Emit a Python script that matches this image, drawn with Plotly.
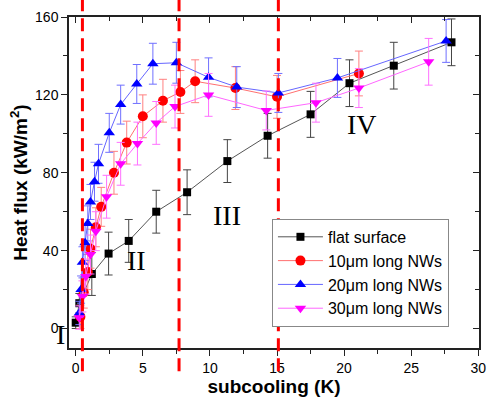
import plotly.graph_objects as go

# Pool boiling heat flux vs. subcooling for flat and nanowire surfaces
flat_x = [0.0, 0.27, 1.2, 2.45, 3.95, 6.0, 8.3, 11.3, 14.3, 17.5, 20.4, 23.7, 28.0]
flat_y = [3, 13, 28, 38.5, 45, 60, 70, 86, 99, 110, 126, 135, 147]
flat_err = [3, 5, 11, 11, 11, 11, 11.5, 11, 11.5, 11.8, 12, 12, 12]

nw10_x = [0.35, 0.6, 0.9, 1.1, 1.5, 1.9, 2.85, 3.8, 5.0, 6.5, 7.8, 8.9, 11.9, 15.0, 21.1]
nw10_y = [6, 18.5, 29, 41, 52, 62.5, 80, 95.5, 109, 117, 121.5, 127, 123.5, 119, 131]
nw10_err = [6, 8, 9, 10, 10, 10, 11, 11, 11, 11, 11, 11, 11, 11, 11.5]

nw20_x = [0.27, 0.4, 0.5, 0.7, 0.9, 1.1, 1.4, 1.7, 2.5, 3.35, 4.55, 5.75, 7.5, 9.9, 12.0, 15.1, 19.5, 27.6]
nw20_y = [8, 20, 34, 44, 54, 65, 75.4, 84.6, 100.5, 115, 125.6, 136, 136.5, 129, 124, 121, 128.7, 147.7]
nw20_err = [6, 7, 8, 9, 9, 9, 10, 10, 10, 10, 10, 10.5, 10.5, 10, 10.5, 10, 10, 11]

nw30_x = [0.27, 0.5, 0.75, 1.1, 1.5, 2.3, 3.35, 4.6, 6.0, 7.4, 9.9, 14.2, 17.9, 21.1, 26.3]
nw30_y = [5.6, 16.5, 26.7, 38, 50, 67.7, 84.6, 95, 105.6, 114, 120, 112, 116, 123.5, 137]
nw30_err = [6, 8, 9, 10, 10, 11, 11, 11, 11, 11, 11, 10, 10, 10, 12]

# regime boundaries (K) and regime labels
boundaries = [0.5, 7.7, 15.1]
regime_text = ["I", "II", "III", "IV"]
regime_x = [-1.1, 4.5, 11.3, 21.3]
regime_y = [-3, 35, 58, 105]

x_range = [-0.5, 30.05]
y_range = [-10, 160]

FONT = "Liberation Sans, Arial, sans-serif"
SERIF = "Liberation Serif, Times New Roman, serif"

series = [
    ("flat surface", flat_x, flat_y, flat_err, "square", 8, "#000000", "#555555", "#444444"),
    ("10μm long NWs", nw10_x, nw10_y, nw10_err, "circle", 10, "#ff0000", "#ff7070", "#ff8080"),
    ("20μm long NWs", nw20_x, nw20_y, nw20_err, "triangle-up", 10, "#0000ff", "#6666ff", "#7070ff"),
    ("30μm long NWs", nw30_x, nw30_y, nw30_err, "triangle-down", 10, "#ff00ff", "#ff66ff", "#ff70ff"),
]

fig = go.Figure()
for name, xs, ys, es, sym, size, mcol, lcol, ecol in series:
    fig.add_trace(go.Scatter(
        x=xs, y=ys, name=name, mode="lines+markers",
        marker=dict(symbol=sym, size=size, color=mcol, line=dict(width=0)),
        line=dict(color=lcol, width=1),
        error_y=dict(type="data", array=es, visible=True, color=ecol, thickness=1, width=4),
    ))

# carrier trace for the mirrored top/right axes
fig.add_trace(go.Scatter(
    x=flat_x, y=flat_y, xaxis="x2", yaxis="y2", mode="markers",
    marker=dict(opacity=0), showlegend=False, hoverinfo="skip",
))

for xb in boundaries:
    fig.add_shape(type="line", xref="x", yref="paper", x0=xb, x1=xb, y0=-0.07, y1=1.06,
                  line=dict(color="#ff0000", width=3, dash="13px,7px"))


def to_paper(v, rng):
    return (v - rng[0]) / (rng[1] - rng[0])


# regime labels placed in paper space so the one left of the axis is kept
for t, xt, yt in zip(regime_text, regime_x, regime_y):
    fig.add_annotation(xref="paper", yref="paper",
                       x=to_paper(xt, x_range), y=to_paper(yt, y_range),
                       xanchor="center", yanchor="middle",
                       text=t, showarrow=False,
                       font=dict(family=SERIF, size=28, color="black"))

axis_common = dict(showgrid=False, zeroline=False, showline=True, linecolor="#222222",
                   linewidth=1.5, tickcolor="#222222", automargin=False)

fig.update_layout(
    width=487, height=402,
    margin=dict(l=69, r=8, t=17, b=54),
    paper_bgcolor="white", plot_bgcolor="white",
    font=dict(family=FONT, size=15, color="black"),
    showlegend=True,
    legend=dict(x=0.495, y=0.39, xanchor="left", yanchor="top",
                bgcolor="white", bordercolor="#888888", borderwidth=1,
                font=dict(family=FONT, size=16), tracegroupgap=0, itemwidth=45),
    xaxis=dict(range=x_range, dtick=5, tick0=0, ticks="outside", ticklen=6,
               minor=dict(dtick=2.5, ticks="outside", ticklen=4, tickcolor="#222222"),
               title=dict(text="<b>subcooling (K)</b>", font=dict(size=19), standoff=4),
               tickfont=dict(size=14), **axis_common),
    yaxis=dict(range=y_range, dtick=40, tick0=0, ticks="outside", ticklen=6,
               minor=dict(dtick=20, ticks="outside", ticklen=4, tickcolor="#222222"),
               title=dict(text="<b>Heat flux (kW/m<sup>2</sup>)</b>", font=dict(size=19), standoff=2),
               tickfont=dict(size=14), **axis_common),
    xaxis2=dict(range=x_range, overlaying="x", side="top", dtick=5, tick0=0,
                ticks="inside", ticklen=6, showticklabels=False,
                minor=dict(dtick=2.5, ticks="inside", ticklen=4, tickcolor="#222222"),
                **axis_common),
    yaxis2=dict(range=y_range, overlaying="y", side="right", dtick=40, tick0=0,
                ticks="inside", ticklen=6, showticklabels=False,
                minor=dict(dtick=20, ticks="inside", ticklen=4, tickcolor="#222222"),
                **axis_common),
)

fig.write_html("out.html")
